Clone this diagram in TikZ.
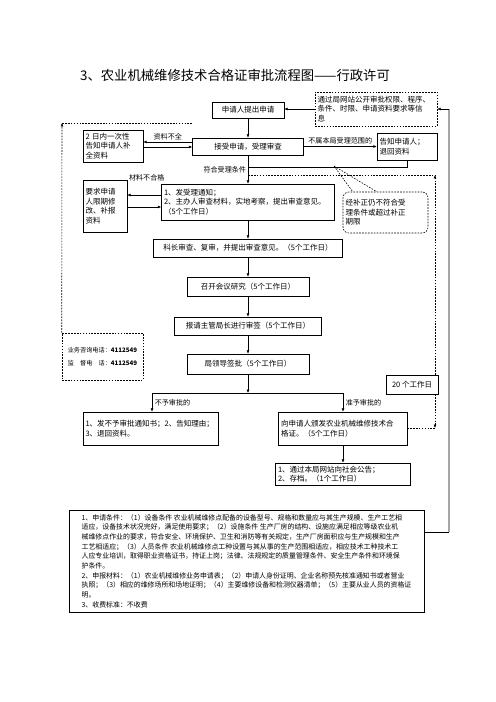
\documentclass[tikz,border=0pt]{standalone}
\usepackage{fontspec}
\setmainfont{Noto Sans CJK SC}
\usetikzlibrary{arrows.meta, positioning, calc}

\begin{document}
\begin{tikzpicture}[
    x=1.2pt, y=-1.2pt,
    every node/.style={font=\fontsize{9}{11.5}\selectfont},
    box/.style={draw, line width=0.7pt, inner sep=3pt, align=center},
    tbox/.style={box, align=left},
    dbox/.style={box, dash pattern=on 2pt off 1.5pt},
    arrow/.style={-{Latex[length=4pt,width=3.5pt]}, line width=0.7pt},
    dline/.style={line width=0.7pt, dash pattern=on 2pt off 1.5pt},
    lbl/.style={font=\fontsize{8.5}{10}\selectfont, inner sep=1pt},
]
\useasboundingbox (0,0) rectangle (496,702);

\node[font=\fontsize{16}{18}\selectfont] (title) at (235,75) {3、农业机械维修技术合格证审批流程图——行政许可};

% main column
\node[box, minimum width=86.4pt, minimum height=19.2pt] (apply) at (248,110) {申请人提出申请};
\node[box, minimum width=133.2pt, minimum height=20.4pt] (accept) at (248,146.5) {接受申请，受理审查};
\node[tbox, text width=201.6pt, minimum height=43.2pt] (review) at (248,202) {1、发受理通知；\\2、主办人审查材料，实地考察，提出审查意见。\\（5个工作日）};
\node[box, minimum width=226.8pt, minimum height=21.6pt] (chief) at (248,248) {科长审查、复审，并提出审查意见。（5个工作日）};
\node[box, minimum width=146.4pt, minimum height=22.8pt] (meeting) at (248,286.5) {召开会议研究（5个工作日）};
\node[box, minimum width=176.4pt, minimum height=21.6pt] (sign) at (248,326) {报请主管局长进行审签（5个工作日）};
\node[box, minimum width=146.4pt, minimum height=24pt] (leader) at (248,364) {局领导签批（5个工作日）};

% side boxes
\node[dbox, align=left, text width=140.4pt, minimum height=40.8pt] (info) at (376,109) {通过局网站公开审批权限、程序、\\条件、时限、申请资料要求等信\\息};
\node[tbox, text width=66pt, minimum height=38.4pt] (supp) at (113,146) {2 日内一次性\\告知申请人补\\全资料};
\node[tbox, text width=66pt, minimum height=32.4pt] (notify) at (407,146.5) {告知申请人；\\退回资料};
\node[tbox, text width=46.8pt, minimum height=62.4pt] (modify) at (105,206) {要求申请\\人限期修\\改、补报\\资料};
\node[dbox, align=left, rounded corners=7pt, text width=96pt, minimum height=49.2pt] (callout) at (385.5,212.5) {经补正仍不符合受\\理条件或超过补正\\期限};
\node[dbox, align=left, inner xsep=2pt, minimum width=97.2pt, minimum height=56.4pt, font=\fontsize{7.4}{15}\selectfont] (phone) at (102.5,356.5) {业务咨询电话：\textbf{4112549}\\监\hspace{1em}督电\hspace{1em}话：\textbf{4112549}};
\node[box, minimum width=62.4pt, minimum height=22.8pt] (days) at (412,384.5) {20 个工作日};
\node[tbox, text width=156pt, minimum height=39.6pt] (reject) at (150.5,428.5) {1、发不予审批通知书；2、告知理由；\\3、退回资料。};
\node[tbox, text width=148.8pt, minimum height=39.6pt] (grant) at (343,428.5) {向申请人颁发农业机械维修技术合\\格证。（5个工作日）};
\node[tbox, text width=156pt, minimum height=26.4pt] (publish) at (343,474) {1、通过本局网站向社会公告；\\2、存档。（1个工作日）};
\node[tbox, minimum width=426pt, minimum height=122.4pt, font=\fontsize{8.3}{11.6}\selectfont] (notes) at (246.5,561) {1、申请条件：（1）设备条件 农业机械维修点配备的设备型号、规格和数量应与其生产规模、生产工艺相\\适应，设备技术状况完好，满足使用要求；（2）设施条件 生产厂房的结构、设施应满足相应等级农业机\\械维修点作业的要求，符合安全、环境保护、卫生和消防等有关规定，生产厂房面积应与生产规模和生产\\工艺相适应；（3）人员条件 农业机械维修点工种设置与其从事的生产范围相适应，相应技术工种技术工\\人应专业培训，取得职业资格证书，持证上岗；法律、法规规定的质量管理条件、安全生产条件和环境保\\护条件。\\2、申报材料：（1）农业机械维修业务申请表；（2）申请人身份证明、企业名称预先核准通知书或者营业\\执照；（3）相应的维修场所和场地证明；（4）主要维修设备和检测仪器清单；（5）主要从业人员的资格证\\明。\\3、收费标准：不收费};

% helper points
\coordinate (a1) at ($(accept.west)+(0,-4.5)$);
\coordinate (a2) at ($(accept.west)+(0,0.5)$);
\coordinate (b1) at ($(review.west)+(0,-7)$);
\coordinate (b2) at ($(review.west)+(0,5)$);
\coordinate (join) at (248,167);
\coordinate (tl) at (248,175);
\coordinate (tr) at (435,175);
\coordinate (br) at (435,428);
\coordinate (tip) at (334,166);
\coordinate (split) at (248,393);
\coordinate (lsplit) at (152,393);
\coordinate (rsplit) at (343,393);
\coordinate (gb) at (449,532);
\coordinate (gt) at (449,109);
\coordinate (lt) at (62,123);
\coordinate (lr) at (193,123);

% connectors
\draw[arrow] (apply) -- (accept);
\draw[arrow] (info.west) -- (info.west -| apply.east);
\draw[arrow] (a1) -- node[lbl, above=1pt] {资料不全} (a1 -| supp.east);
\draw[arrow] (a2 -| supp.east) -- (a2);
\draw[arrow] (accept) -- node[lbl, above=1pt] {不属本局受理范围的} (notify);
\draw[line width=0.7pt] (notify.south) |- (join);
\draw[arrow] (accept) -- node[lbl, left=1pt] {符合受理条件} (review);
\draw[arrow] (b1) -- node[lbl, above=15pt, xshift=3pt] {材料不合格} (b1 -| modify.east);
\draw[arrow] (b2 -| modify.east) -- (b2);

% 20 working days
\draw[dline] (tl) -- (tr);
\draw[arrow, dline] (days.north -| tr) -- (tr);
\draw[arrow, dline] (days.south -| br) -- (br);
\draw[dline] (br) -- (br -| grant.east);

% callout pointer
\draw[dline] (tip) -- ($(callout.north west)+(10,0)$);
\draw[dline] (tip) -- ($(callout.north west)+(34,0)$);

\draw[arrow] (review) -- (chief);
\draw[arrow] (chief) -- (meeting);
\draw[arrow] (meeting) -- (sign);
\draw[arrow] (sign) -- (leader);
\draw[arrow] (leader) -- (split);
\draw[line width=0.7pt] (lsplit) -- (rsplit);
\draw[arrow] (lsplit) -- node[lbl, right=2pt] {不予审批的} (lsplit |- reject.north);
\draw[arrow] (rsplit) -- node[lbl, right=2pt] {准予审批的} (rsplit |- grant.north);
\draw[arrow] (grant) -- (publish);

% back to the info box
\draw[line width=0.7pt] (notes.east |- gb) -- (gb);
\draw[gray!70, line width=1.5pt] (gb) -- (gt);
\draw[arrow] (gt) -- (gt -| info.east);

% left dashed
\draw[arrow, dline] (phone.north west) -- (lt);
\draw[dline] (lt) -- (lr);
\end{tikzpicture}
\end{document}
